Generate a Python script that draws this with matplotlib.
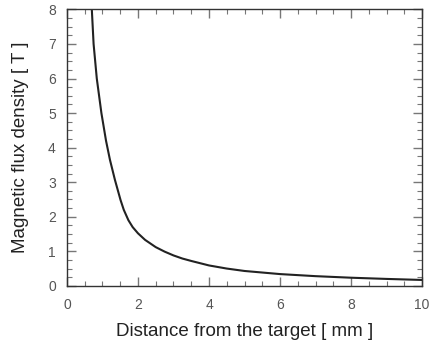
import matplotlib
matplotlib.use("Agg")
import matplotlib.pyplot as plt
from matplotlib.ticker import MultipleLocator

# values
distance_mm = [0.70, 0.75, 0.84, 0.97, 1.10, 1.21, 1.35, 1.51, 1.60, 1.73,
               1.85, 2.0, 2.2, 2.5, 2.75, 3.0, 3.25, 3.5, 4.0, 4.5,
               5.0, 6.0, 7.0, 8.0, 9.0, 10.0]
flux_T = [8.0, 7.0, 6.0, 5.0, 4.2, 3.65, 3.07, 2.48, 2.20, 1.90,
          1.70, 1.52, 1.33, 1.12, 0.99, 0.88, 0.79, 0.72, 0.59, 0.50,
          0.43, 0.34, 0.28, 0.235, 0.20, 0.17]

plt.rcParams['font.family'] = ['Liberation Sans', 'DejaVu Sans']

fig = plt.figure(figsize=(4.32, 3.49), dpi=100)
ax = fig.add_axes([0.155, 0.181, 0.822, 0.792])

ax.plot(distance_mm, flux_T, color='#222222', lw=1.5)

ax.set_xlim(0, 10)
ax.set_ylim(0, 8)
ax.xaxis.set_major_locator(MultipleLocator(2))
ax.xaxis.set_minor_locator(MultipleLocator(0.5))
ax.yaxis.set_major_locator(MultipleLocator(1))
ax.yaxis.set_minor_locator(MultipleLocator(0.25))

ax.tick_params(which='both', direction='in', top=True, right=True,
               color='#777777', labelcolor='#555555', labelsize=10)
ax.tick_params(which='major', length=6.5, width=1.0)
ax.tick_params(which='minor', length=3.5, width=0.8)
ax.tick_params(axis='x', pad=9)
ax.tick_params(axis='y', pad=8)

for s in ax.spines.values():
    s.set_color('#333333')
    s.set_linewidth(1.0)

ax.set_xlabel('Distance from the target [ mm ]', fontsize=13.5,
              color='#222222', labelpad=8)
ax.set_ylabel('Magnetic flux density [ T ]', fontsize=13.5,
              color='#222222', labelpad=14)

fig.savefig('out.png', dpi=100)
